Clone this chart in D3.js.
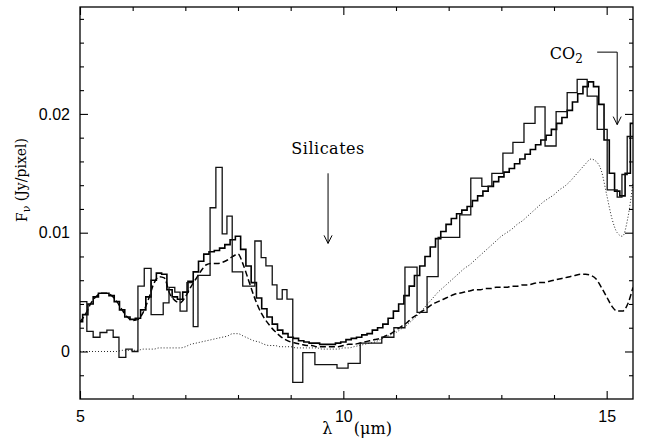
<!DOCTYPE html>
<html>
<head>
<meta charset="utf-8">
<script src="https://cdn.jsdelivr.net/npm/d3@7"></script>
<style>
    body { margin: 0; background: #fff; }
    .tick text { font-family: "Liberation Sans", Arial, sans-serif; font-size: 16px; fill: #000; }
    .lbl { font-family: "DejaVu Serif", serif; font-size: 16px; fill: #000; }
</style>
</head>
<body>
<div id="chart"></div>
<script>
// observed spectrum: bin edges (micron) and flux in each bin (Jy/pixel)
const binEdges = [5.00, 5.13, 5.25, 5.38, 5.51, 5.63, 5.74, 5.87, 5.99, 6.10,
    6.22, 6.35, 6.46, 6.58, 6.69, 6.80, 6.90, 7.03, 7.15, 7.24,
    7.35, 7.47, 7.58, 7.70, 7.79, 7.89, 8.00, 8.09, 8.21, 8.32,
    8.44, 8.53, 8.65, 8.74, 8.84, 8.93, 9.04, 9.23, 9.46, 9.88,
    10.09, 10.32, 10.73, 10.96, 11.17, 11.40, 11.59, 11.80, 12.21, 12.42,
    12.63, 12.82, 13.03, 13.22, 13.43, 13.64, 13.83, 14.04, 14.25, 14.44,
    14.63, 14.82, 15.01, 15.20, 15.29, 15.39, 15.50];
const binFlux = [0.0042, 0.0017, 0.0012, 0.0016, 0.0018, 0.0012, -0.0005, 0.0002, 0.0000, 0.0055,
    0.0070, 0.0031, 0.0031, 0.0041, 0.0054, 0.0050, 0.0034, 0.0058, 0.0021, 0.0064,
    0.0064, 0.0121, 0.0155, 0.0099, 0.0114, 0.0067, 0.0067, 0.0055, 0.0055, 0.0093,
    0.0079, 0.0072, 0.0056, 0.0044, 0.0052, 0.0044, -0.0026, -0.0001, -0.0011, -0.0014,
    -0.0010, 0.0007, 0.0012, 0.0020, 0.0071, 0.0033, 0.0063, 0.0096, 0.0115, 0.0146,
    0.0139, 0.0150, 0.0167, 0.0176, 0.0192, 0.0206, 0.0173, 0.0202, 0.0218, 0.0229,
    0.0215, 0.0187, 0.0136, 0.0130, 0.0149, 0.0181];

// model wavelength grid, 5.0 .. 15.5 micron every 0.1
const modelWave = d3.range(50, 156).map(d => d / 10);

// total model (solid)
const modelTotal = [0.0025, 0.0031, 0.0040, 0.0046, 0.0049, 0.0049, 0.0047, 0.0042, 0.0035, 0.0029,
    0.0027, 0.0028, 0.0035, 0.0046, 0.0060, 0.0066, 0.0065, 0.0052, 0.0046, 0.0044,
    0.0050, 0.0059, 0.0067, 0.0076, 0.0082, 0.0084, 0.0085, 0.0087, 0.0090, 0.0094,
    0.0097, 0.0086, 0.0072, 0.0058, 0.0045, 0.0036, 0.0029, 0.0023, 0.0018, 0.0015,
    0.0012, 0.0011, 0.0009, 0.0008, 0.0007, 0.0007, 0.0006, 0.0006, 0.0006, 0.0007,
    0.0008, 0.0010, 0.0011, 0.0012, 0.0014, 0.0015, 0.0018, 0.0020, 0.0023, 0.0028,
    0.0034, 0.0040, 0.0047, 0.0055, 0.0064, 0.0072, 0.0080, 0.0088, 0.0095, 0.0101,
    0.0107, 0.0112, 0.0116, 0.0119, 0.0122, 0.0127, 0.0131, 0.0135, 0.0139, 0.0143,
    0.0147, 0.0151, 0.0154, 0.0158, 0.0162, 0.0166, 0.0170, 0.0174, 0.0178, 0.0182,
    0.0187, 0.0192, 0.0197, 0.0203, 0.0210, 0.0217, 0.0223, 0.0227, 0.0223, 0.0208,
    0.0178, 0.0150, 0.0135, 0.0131, 0.0150, 0.0192];

// dashed component
const modelDashed = [0.0025, 0.0031, 0.0040, 0.0046, 0.0049, 0.0049, 0.0047, 0.0042, 0.0035, 0.0029,
    0.0026, 0.0027, 0.0033, 0.0044, 0.0057, 0.0063, 0.0062, 0.0049, 0.0043, 0.0041,
    0.0046, 0.0054, 0.0061, 0.0068, 0.0073, 0.0074, 0.0074, 0.0075, 0.0077, 0.0080,
    0.0082, 0.0073, 0.0060, 0.0047, 0.0036, 0.0028, 0.0022, 0.0017, 0.0013, 0.0010,
    0.0008, 0.0007, 0.0006, 0.0005, 0.0005, 0.0004, 0.0004, 0.0004, 0.0004, 0.0004,
    0.0005, 0.0006, 0.0006, 0.0007, 0.0008, 0.0009, 0.0010, 0.0011, 0.0013, 0.0015,
    0.0018, 0.0021, 0.0024, 0.0028, 0.0031, 0.0034, 0.0037, 0.0040, 0.0042, 0.0044,
    0.0046, 0.0048, 0.0049, 0.0050, 0.0051, 0.0052, 0.0052, 0.0053, 0.0053, 0.0054,
    0.0054, 0.0054, 0.0055, 0.0055, 0.0056, 0.0056, 0.0057, 0.0058, 0.0058, 0.0059,
    0.0060, 0.0061, 0.0062, 0.0063, 0.0064, 0.0065, 0.0065, 0.0064, 0.0061, 0.0054,
    0.0046, 0.0038, 0.0034, 0.0034, 0.0040, 0.0054];

// dotted component
const modelDotted = [0.0000, 0.0000, 0.0000, 0.0000, 0.0000, 0.0000, 0.0000, 0.0000, 0.0001, 0.0001,
    0.0001, 0.0001, 0.0002, 0.0002, 0.0002, 0.0003, 0.0003, 0.0003, 0.0003, 0.0003,
    0.0004, 0.0006, 0.0007, 0.0008, 0.0009, 0.0010, 0.0011, 0.0012, 0.0013, 0.0015,
    0.0015, 0.0013, 0.0011, 0.0009, 0.0008, 0.0006, 0.0005, 0.0005, 0.0004, 0.0004,
    0.0004, 0.0003, 0.0003, 0.0003, 0.0003, 0.0003, 0.0002, 0.0002, 0.0002, 0.0002,
    0.0003, 0.0003, 0.0004, 0.0005, 0.0006, 0.0007, 0.0008, 0.0010, 0.0012, 0.0014,
    0.0016, 0.0019, 0.0022, 0.0026, 0.0030, 0.0035, 0.0040, 0.0045, 0.0050, 0.0054,
    0.0058, 0.0062, 0.0066, 0.0070, 0.0073, 0.0077, 0.0081, 0.0085, 0.0089, 0.0093,
    0.0097, 0.0100, 0.0103, 0.0107, 0.0110, 0.0114, 0.0118, 0.0122, 0.0126, 0.0129,
    0.0132, 0.0136, 0.0139, 0.0143, 0.0148, 0.0153, 0.0158, 0.0162, 0.0160, 0.0152,
    0.0132, 0.0112, 0.0100, 0.0097, 0.0112, 0.0142];

// ticks
const xTicks = [5, 10, 15];
const xMinorTicks = [6, 7, 8, 9, 11, 12, 13, 14];
const yTicks = [0, 0.01, 0.02];
const yTickLabels = ["0", "0.01", "0.02"];
const yMinorTicks = [-0.002, 0.002, 0.004, 0.006, 0.008, 0.012, 0.014, 0.016, 0.018, 0.022, 0.024, 0.026, 0.028];

// layout
const W = 645, H = 439;
const margin = { top: 7, right: 12, bottom: 40, left: 80 };
const width = W - margin.left - margin.right;
const height = H - margin.top - margin.bottom;

const svg = d3.select("#chart").append("svg")
    .attr("width", W)
    .attr("height", H);

const g = svg.append("g")
    .attr("transform", `translate(${margin.left},${margin.top})`);

const x = d3.scaleLinear().domain([5, 15.5]).range([0, width]);
const y = d3.scaleLinear().domain([-0.004, 0.029]).range([height, 0]);

g.append("defs").append("clipPath").attr("id", "clip")
    .append("rect").attr("width", width).attr("height", height);

const plot = g.append("g").attr("clip-path", "url(#clip)");

// model curves
plot.append("path")
    .attr("d", d3.line().x((d, i) => x(modelWave[i])).y(d => y(d)).curve(d3.curveMonotoneX)(modelDotted))
    .attr("fill", "none")
    .attr("stroke", "#222")
    .attr("stroke-width", 1)
    .attr("stroke-dasharray", "1,2");

plot.append("path")
    .attr("d", d3.line().x((d, i) => x(modelWave[i])).y(d => y(d)).curve(d3.curveMonotoneX)(modelDashed))
    .attr("fill", "none")
    .attr("stroke", "#000")
    .attr("stroke-width", 1.5)
    .attr("stroke-dasharray", "6,3");

plot.append("path")
    .attr("d", d3.line().x((d, i) => x(modelWave[i])).y(d => y(d)).curve(d3.curveStep)(modelTotal))
    .attr("fill", "none")
    .attr("stroke", "#000")
    .attr("stroke-width", 1.6);

// observed histogram
const dataPts = binFlux.map((v, i) => [binEdges[i], v]);
dataPts.push([binEdges[binEdges.length - 1], binFlux[binFlux.length - 1]]);

plot.append("path")
    .attr("d", d3.line().x(d => x(d[0])).y(d => y(d[1])).curve(d3.curveStepAfter)(dataPts))
    .attr("fill", "none")
    .attr("stroke", "#111")
    .attr("stroke-width", 1.3);

// axes: ticks pointing inward on all four sides
function cleanAxis(sel) {
    sel.select(".domain").remove();
    sel.selectAll(".tick line").attr("stroke", "#000").attr("stroke-width", 1.1);
}

g.append("g")
    .attr("transform", `translate(0,${height})`)
    .call(d3.axisBottom(x).tickValues(xTicks).tickSizeInner(-8).tickSizeOuter(0).tickPadding(12).tickFormat(d3.format("d")))
    .call(cleanAxis);
g.append("g")
    .attr("transform", `translate(0,${height})`)
    .call(d3.axisBottom(x).tickValues(xMinorTicks).tickSizeInner(-4).tickSizeOuter(0).tickFormat(""))
    .call(cleanAxis);
g.append("g")
    .call(d3.axisTop(x).tickValues(xTicks).tickSizeInner(-8).tickSizeOuter(0).tickFormat(""))
    .call(cleanAxis);
g.append("g")
    .call(d3.axisTop(x).tickValues(xMinorTicks).tickSizeInner(-4).tickSizeOuter(0).tickFormat(""))
    .call(cleanAxis);

g.append("g")
    .call(d3.axisLeft(y).tickValues(yTicks).tickSizeInner(-8).tickSizeOuter(0).tickPadding(10)
        .tickFormat((d, i) => yTickLabels[i]))
    .call(cleanAxis);
g.append("g")
    .call(d3.axisLeft(y).tickValues(yMinorTicks).tickSizeInner(-4).tickSizeOuter(0).tickFormat(""))
    .call(cleanAxis);
g.append("g")
    .attr("transform", `translate(${width},0)`)
    .call(d3.axisRight(y).tickValues(yTicks).tickSizeInner(-8).tickSizeOuter(0).tickFormat(""))
    .call(cleanAxis);
g.append("g")
    .attr("transform", `translate(${width},0)`)
    .call(d3.axisRight(y).tickValues(yMinorTicks).tickSizeInner(-4).tickSizeOuter(0).tickFormat(""))
    .call(cleanAxis);

// frame
g.append("rect")
    .attr("width", width)
    .attr("height", height)
    .attr("fill", "none")
    .attr("stroke", "#000")
    .attr("stroke-width", 1.3);

// axis titles
const xt = g.append("text").attr("class", "lbl").attr("y", height + 35);
xt.append("tspan").attr("x", x(9.6)).text("λ");
xt.append("tspan").attr("x", x(10.2)).text("(μm)");

const yt = g.append("text").attr("class", "lbl")
    .attr("transform", `translate(${-53},${180 - margin.top}) rotate(-90)`)
    .attr("text-anchor", "middle")
    .style("font-size", "14px");
yt.append("tspan").text("F");
yt.append("tspan").attr("dy", "0.3em").style("font-size", "11px").text("ν");
yt.append("tspan").attr("dy", "-0.3em").text(" (Jy/pixel)");

// annotations
const arrowHead = (px, py) => `M${px - 4},${py - 8}L${px},${py}L${px + 4},${py - 8}`;

g.append("text").attr("class", "lbl")
    .attr("x", x(9.71)).attr("y", y(0.0166))
    .attr("text-anchor", "middle")
    .style("letter-spacing", "0.5px")
    .text("Silicates");
g.append("path")
    .attr("d", `M${x(9.71)},${y(0.0150)}V${y(0.0091)}` + arrowHead(x(9.71), y(0.0091)))
    .attr("fill", "none").attr("stroke", "#000").attr("stroke-width", 1);

const co = g.append("text").attr("class", "lbl")
    .attr("x", x(13.92)).attr("y", y(0.0246));
co.append("tspan").text("CO");
co.append("tspan").attr("dy", "0.3em").style("font-size", "12px").text("2");
g.append("path")
    .attr("d", `M${x(14.82)},${y(0.0252)}H${x(15.2)}V${y(0.0191)}` + arrowHead(x(15.2), y(0.0191)))
    .attr("fill", "none").attr("stroke", "#000").attr("stroke-width", 1);
</script>
</body>
</html>
